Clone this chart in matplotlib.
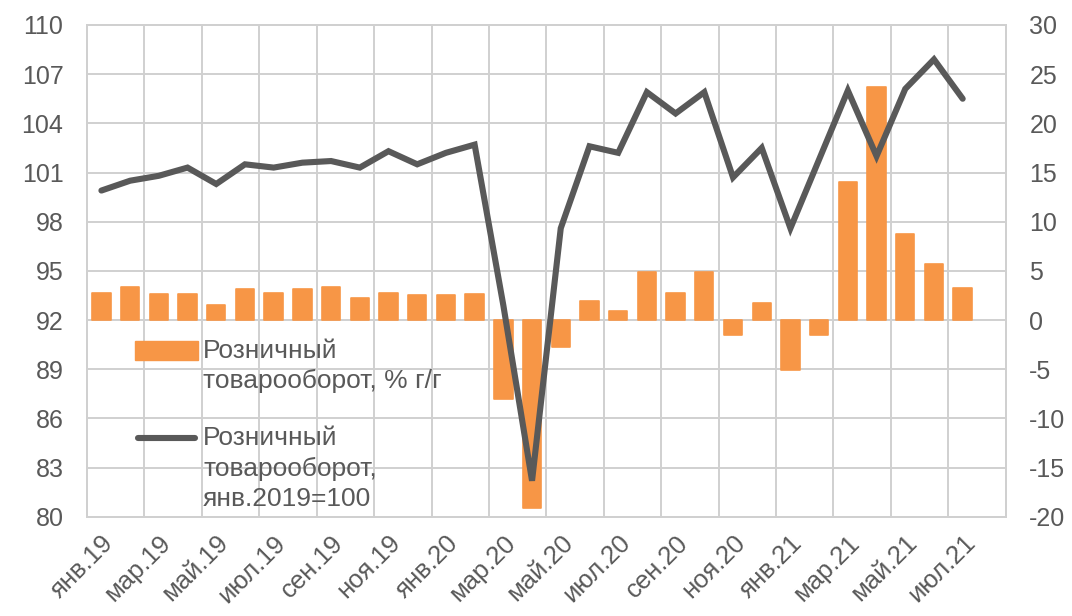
import matplotlib
matplotlib.use('Agg')
import matplotlib.pyplot as plt
from matplotlib.patches import Rectangle
from matplotlib.lines import Line2D

MONTHS = ['янв.19', 'фев.19', 'мар.19', 'апр.19', 'май.19', 'июн.19',
          'июл.19', 'авг.19', 'сен.19', 'окт.19', 'ноя.19', 'дек.19',
          'янв.20', 'фев.20', 'мар.20', 'апр.20', 'май.20', 'июн.20',
          'июл.20', 'авг.20', 'сен.20', 'окт.20', 'ноя.20', 'дек.20',
          'янв.21', 'фев.21', 'мар.21', 'апр.21', 'май.21', 'июн.21',
          'июл.21', 'авг.21']

# розничный товарооборот, % г/г (правая ось)
RETAIL_YOY = [2.8, 3.4, 2.6, 2.6, 1.5, 3.2, 2.8, 3.2, 3.4, 2.2, 2.8, 2.5,
              2.5, 2.6, -8.0, -19.1, -2.7, 1.9, 0.9, 4.9, 2.8, 4.9, -1.5, 1.7,
              -5.1, -1.5, 14.0, 23.7, 8.8, 5.7, 3.3]

# розничный товарооборот, янв.2019=100 (левая ось)
RETAIL_INDEX = [99.9, 100.5, 100.8, 101.3, 100.3, 101.5, 101.3, 101.6, 101.7,
                101.3, 102.3, 101.5, 102.2, 102.7, 92.9, 82.2, 97.6, 102.6,
                102.2, 105.9, 104.6, 105.9, 100.7, 102.5, 97.6, 101.8, 106.0,
                102.0, 106.1, 107.9, 105.5]

LEFT_TICKS = list(range(80, 111, 3))
RIGHT_TICKS = list(range(-20, 31, 5))

LABEL_YOY = 'Розничный\nтоварооборот, % г/г'
LABEL_INDEX = 'Розничный\nтоварооборот,\nянв.2019=100'

ORANGE = '#F79646'
DARK = '#595959'
GRID = '#D0D0D0'
TEXT = '#595959'

plt.rcParams['font.family'] = ['Liberation Sans', 'DejaVu Sans']
plt.rcParams['axes.unicode_minus'] = False


def main():
    fig = plt.figure(figsize=(10.72, 6.16), dpi=100)
    ax = fig.add_axes([0.0812, 0.161, 0.857, 0.7985])

    x_bars = list(range(len(RETAIL_YOY)))
    ax.bar(x_bars, RETAIL_YOY, width=0.64, color=ORANGE, edgecolor=ORANGE,
           linewidth=1.2, joinstyle='round', zorder=2)
    ax.set_ylim(RIGHT_TICKS[0], RIGHT_TICKS[-1])
    ax.set_yticks(RIGHT_TICKS)
    ax.set_xlim(-0.5, len(MONTHS) - 0.5)
    ax.set_xticks(range(0, len(MONTHS) - 1, 2))
    ax.set_xticklabels(MONTHS[0:len(MONTHS) - 1:2], rotation=45, ha='right',
                       rotation_mode='anchor')
    ax.set_xticks([i - 0.5 for i in range(0, len(MONTHS) + 1, 2)], minor=True)
    ax.set_axisbelow(True)
    ax.grid(axis='y', color=GRID, linewidth=1.4)
    ax.grid(axis='x', which='minor', color=GRID, linewidth=1.4)

    ax_line = ax.twinx()
    # twinx ставит тики исходной оси слева, возвращаем вправо
    ax.yaxis.tick_right()
    ax_line.yaxis.tick_left()
    ax.tick_params(axis='both', which='both', length=0, colors=TEXT)
    ax.tick_params(axis='y', labelsize=18, pad=17)
    ax.tick_params(axis='x', labelsize=18.5, pad=10)

    ax_line.plot(range(len(RETAIL_INDEX)), RETAIL_INDEX, color=DARK,
                 linewidth=4.4, solid_joinstyle='miter', solid_capstyle='round')
    ax_line.set_ylim(LEFT_TICKS[0], LEFT_TICKS[-1])
    ax_line.set_yticks(LEFT_TICKS)
    ax_line.tick_params(axis='y', length=0, colors=TEXT, labelsize=18, pad=17)

    for a in (ax, ax_line):
        for sp in a.spines.values():
            sp.set_color(GRID)
            sp.set_linewidth(1.4)

    # легенда вручную: маркер выровнен по первой строке подписи
    ax_line.add_patch(Rectangle((0.0523, 0.319), 0.0686, 0.039,
                                transform=ax_line.transAxes, color=ORANGE,
                                zorder=5))
    ax_line.add_line(Line2D([0.056, 0.117], [0.1606, 0.1606],
                            transform=ax_line.transAxes, color=DARK,
                            linewidth=4.4, solid_capstyle='round', zorder=5))
    ax_line.text(0.1263, 0.362, LABEL_YOY, transform=ax_line.transAxes,
                 fontsize=19, color=TEXT, va='top', linespacing=1.35)
    ax_line.text(0.1263, 0.185, LABEL_INDEX, transform=ax_line.transAxes,
                 fontsize=19, color=TEXT, va='top', linespacing=1.35)

    fig.savefig('out.png', dpi=100)


if __name__ == '__main__':
    main()
